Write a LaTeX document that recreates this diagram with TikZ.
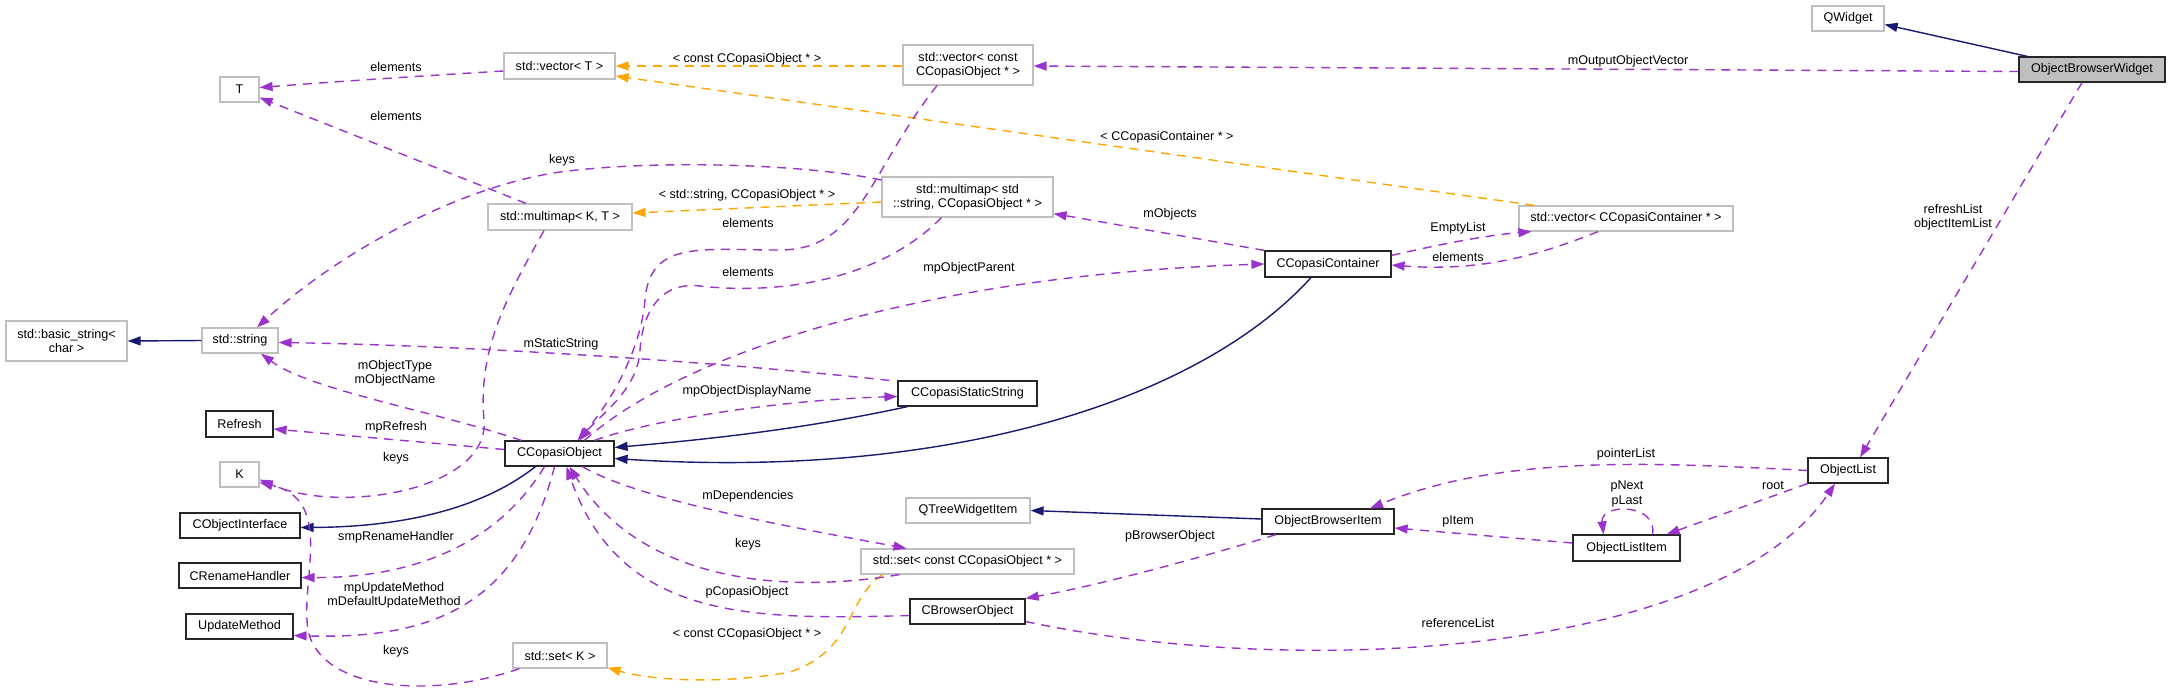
\documentclass[tikz,border=0pt]{standalone}
\usepackage{fontspec}
\setmainfont{Liberation Sans}
\usetikzlibrary{arrows.meta}
\definecolor{purp}{HTML}{9A32CD}
\definecolor{orng}{HTML}{FFA500}
\definecolor{navyb}{HTML}{191970}
\definecolor{boxgrey}{HTML}{BFBFBF}
\newcommand{\dgfont}{\fontsize{12.6}{14.5}\selectfont}
\begin{document}
\begin{tikzpicture}[x=1pt,y=-1pt,
 dgbox/.style={rectangle, line width=1.2pt, inner sep=0pt, align=center, font=\dgfont},
 cls/.style={dgbox, draw=black!85},
 ext/.style={dgbox, draw=boxgrey},
 arrhead/.style={-{Triangle[length=13pt,width=9pt]}},
 usearr/.style={arrhead, draw=purp, line width=1.4pt, dash pattern=on 9pt off 7pt},
 tmplarr/.style={arrhead, draw=orng, line width=1.4pt, dash pattern=on 9pt off 7pt},
 inharr/.style={arrhead, draw=navyb, line width=1.4pt},
 lbl/.style={inner sep=0pt, align=center, font=\dgfont}]
\useasboundingbox (0,0) rectangle (2171,694);

% nodes
\node[ext, minimum width=72pt, minimum height=25pt] (QW) at (1848,18.5) {QWidget};
\node[cls, fill=boxgrey, minimum width=146pt, minimum height=25pt] (OBW) at (2092,69.5) {ObjectBrowserWidget};
\node[ext, minimum width=130pt, minimum height=40pt] (VC) at (968,65) {std::vector< const\\CCopasiObject * >};
\node[ext, minimum width=111pt, minimum height=26pt] (VT) at (559.5,66) {std::vector< T >};
\node[ext, minimum width=39pt, minimum height=25pt] (T) at (239.5,89.5) {T};
\node[ext, minimum width=144pt, minimum height=26pt] (MKT) at (560,217) {std::multimap< K, T >};
\node[ext, minimum width=171pt, minimum height=40pt] (MS) at (967.5,197) {std::multimap< std\\::string, CCopasiObject * >};
\node[ext, minimum width=214pt, minimum height=25pt] (VCC) at (1626,218.5) {std::vector< CCopasiContainer * >};
\node[cls, minimum width=126pt, minimum height=26pt] (CC) at (1328,264) {CCopasiContainer};
\node[ext, minimum width=121pt, minimum height=40pt] (BS) at (66.5,341) {std::basic\_string<\\char >};
\node[ext, minimum width=76pt, minimum height=25pt] (SS) at (240,340.5) {std::string};
\node[cls, minimum width=139pt, minimum height=25pt] (CSS) at (967.5,393.5) {CCopasiStaticString};
\node[cls, minimum width=67pt, minimum height=26pt] (RF) at (239.5,424) {Refresh};
\node[cls, minimum width=109pt, minimum height=25pt] (CO) at (559.5,453.5) {CCopasiObject};
\node[ext, minimum width=39pt, minimum height=25pt] (K) at (239.5,474.5) {K};
\node[ext, minimum width=124pt, minimum height=25pt] (QTI) at (968,510.5) {QTreeWidgetItem};
\node[cls, minimum width=80pt, minimum height=25pt] (OL) at (1848,470.5) {ObjectList};
\node[cls, minimum width=132pt, minimum height=25pt] (OBI) at (1328,521.5) {ObjectBrowserItem};
\node[cls, minimum width=120pt, minimum height=25pt] (COI) at (240,525.5) {CObjectInterface};
\node[cls, minimum width=107pt, minimum height=26pt] (OLI) at (1626.5,548) {ObjectListItem};
\node[ext, minimum width=213pt, minimum height=25pt] (SC) at (967.5,561.5) {std::set< const CCopasiObject * >};
\node[cls, minimum width=122pt, minimum height=25pt] (RH) at (240,575.5) {CRenameHandler};
\node[cls, minimum width=115pt, minimum height=25pt] (BO) at (967.5,611.5) {CBrowserObject};
\node[cls, minimum width=107pt, minimum height=25pt] (UM) at (239.5,626.5) {UpdateMethod};
\node[ext, minimum width=94pt, minimum height=25pt] (SK) at (560,655.5) {std::set< K >};

% edges
\draw[inharr] ([xshift=9pt]OBW.north west) -- ([yshift=-6pt]QW.east);
\draw[usearr] ([yshift=-2pt]OBW.west) -- ([yshift=-1pt]VC.east);
\node[lbl] (l1) at (1628,61) {mOutputObjectVector};
\draw[usearr] ([xshift=-10pt]OBW.south) -- ([xshift=12pt]OL.north);
\node[lbl] (l2) at (1953,217) {refreshList\\objectItemList};
\draw[tmplarr] ([yshift=-1pt]VC.west) -- (VT.east);
\node[lbl] (l3) at (747,59) {< const CCopasiObject * >};
\draw[tmplarr] ([xshift=16pt]VCC.north west) -- ([yshift=-10pt]VT.east);
\node[lbl] (l4) at (1167,137) {< CCopasiContainer * >};
\draw[usearr] ([yshift=-5pt]VT.west) .. controls (420,76) and (330,82) .. ([yshift=2pt]T.east);
\node[lbl] (l5) at (396,67) {elements};
\draw[usearr] ([xshift=-34pt]MKT.north) -- ([yshift=5pt]T.south east);
\node[lbl] (l6) at (396,116) {elements};
\draw[tmplarr] ([yshift=-5pt]MS.west) -- ([yshift=4pt]MKT.east);
\node[lbl] (l7) at (747,195) {< std::string, CCopasiObject * >};
\draw[usearr] ([yshift=17pt]MS.west) .. controls (800,163) and (650,160) .. (560,172) .. controls (450,188) and (330,260) .. ([xshift=17pt]SS.north);
\node[lbl] (l8) at (562,160) {keys};
\draw[usearr] ([xshift=-16pt]MKT.south) .. controls (505,300) and (478,350) .. (484,420) .. controls (490,490) and (340,515) .. ([yshift=-5pt]K.east);
\node[lbl] (l9) at (396,458) {keys};
\draw[usearr] ([xshift=-31pt]VC.south) .. controls (870,170) and (860,250) .. (780,250) .. controls (700,250) and (650,240) .. (645,300) .. controls (640,360) and (600,415) .. ([xshift=18pt]CO.north);
\node[lbl] (l10) at (748,223) {elements};
\draw[usearr] ([xshift=-26pt]MS.south) .. controls (880,280) and (780,295) .. (700,286) .. controls (655,281) and (642,320) .. (640,350) .. controls (638,390) and (600,415) .. ([xshift=20pt]CO.north);
\node[lbl] (l11) at (748,272) {elements};
\draw[usearr] (CC.north west) -- ([yshift=4pt]MS.south east);
\node[lbl] (l12) at (1170,214) {mObjects};
\draw[usearr] ([yshift=-5pt]CC.north east) .. controls (1450,242) and (1490,235) .. ([xshift=13pt]VCC.south west);
\node[lbl] (l13) at (1458,228) {EmptyList};
\draw[usearr] ([xshift=-28pt]VCC.south) .. controls (1540,255) and (1480,272) .. ([yshift=-1pt]CC.east);
\node[lbl] (l14) at (1458,257) {elements};
\draw[usearr] ([xshift=25pt]CO.north) .. controls (680,355) and (920,275) .. (CC.west);
\node[lbl] (l15) at (969,268) {mpObjectParent};
\draw[inharr] ([xshift=-17pt]CC.south) .. controls (1200,400) and (950,480) .. ([yshift=-5pt]CO.east);
\draw[inharr] ([xshift=-60pt]CSS.south) .. controls (800,430) and (700,440) .. ([yshift=6pt]CO.east);
\draw[usearr] ([xshift=35pt]CO.north) .. controls (650,420) and (780,400) .. ([yshift=-3pt]CSS.west);
\node[lbl] (l16) at (747,391) {mpObjectDisplayName};
\draw[usearr] ([xshift=-8pt]CSS.north west) .. controls (700,360) and (450,345) .. ([yshift=-2pt]SS.east);
\node[lbl] (l17) at (561,344) {mStaticString};
\draw[usearr] ([xshift=-38pt]CO.north) .. controls (430,410) and (310,390) .. ([xshift=21pt]SS.south);
\node[lbl] (l18) at (395,373) {mObjectType\\mObjectName};
\draw[usearr] ([yshift=4pt]CO.west) -- ([yshift=-5pt]RF.east);
\node[lbl] (l19) at (396,427) {mpRefresh};
\draw[inharr] ([xshift=-24pt]CO.south) .. controls (480,510) and (400,527) .. ([yshift=-2pt]COI.east);
\draw[usearr] ([xshift=-15pt]CO.south) .. controls (500,540) and (420,578) .. ([yshift=-2pt]RH.east);
\node[lbl] (l20) at (396,537) {smpRenameHandler};
\draw[usearr] ([xshift=-5pt]CO.south) .. controls (520,600) and (440,640) .. ([yshift=-9pt]UM.east);
\node[lbl] (l21) at (394,595) {mpUpdateMethod\\mDefaultUpdateMethod};
\draw[usearr] ([xshift=7pt]SK.south west) .. controls (430,700) and (320,690) .. (308,630) .. controls (300,580) and (335,500) .. ([yshift=-8pt]K.east);
\node[lbl] (l22) at (396,651) {keys};
\draw[tmplarr] ([xshift=-85pt]SC.south) .. controls (845,600) and (855,650) .. (790,672) .. controls (720,685) and (650,680) .. ([yshift=1pt]SK.south east);
\node[lbl] (l23) at (747,634) {< const CCopasiObject * >};
\draw[usearr] ([xshift=23pt]CO.south) .. controls (640,500) and (780,525) .. ([xshift=-61pt]SC.north);
\node[lbl] (l24) at (748,496) {mDependencies};
\draw[usearr] ([xshift=-68pt]SC.south) .. controls (780,595) and (640,580) .. ([xshift=10pt]CO.south);
\node[lbl] (l25) at (748,544) {keys};
\draw[usearr] ([yshift=-4pt]BO.west) .. controls (750,620) and (620,620) .. ([xshift=7pt]CO.south);
\node[lbl] (l26) at (747,592) {pCopasiObject};
\draw[inharr] ([yshift=2.5pt]OBI.west) -- (QTI.east);
\draw[usearr] ([xshift=-52pt]OBI.south) .. controls (1200,558) and (1100,585) .. (BO.north east);
\node[lbl] (l27) at (1170,536) {pBrowserObject};
\draw[usearr] (OL.west) .. controls (1650,462) and (1500,455) .. ([xshift=42pt]OBI.north);
\node[lbl] (l28) at (1626,454) {pointerList};
\draw[usearr] ([yshift=5pt]OLI.west) -- ([yshift=-6.5pt]OBI.east);
\node[lbl] (l29) at (1458,521) {pItem};
\draw[usearr] ([xshift=26pt]OLI.north) .. controls (1658,503) and (1600,503) .. ([xshift=-23pt]OLI.north);
\node[lbl] (l30) at (1627,494) {pNext\\pLast};
\draw[usearr] (OL.south west) -- ([xshift=-14pt]OLI.north east);
\node[lbl] (l31) at (1773,485) {root};
\draw[usearr] ([yshift=-10pt]BO.east) .. controls (1300,680) and (1720,655) .. ([xshift=-13pt]OL.south);
\node[lbl] (l32) at (1458,623) {referenceList};
\draw[inharr] (SS.west) -- (BS.east);
\end{tikzpicture}
\end{document}
